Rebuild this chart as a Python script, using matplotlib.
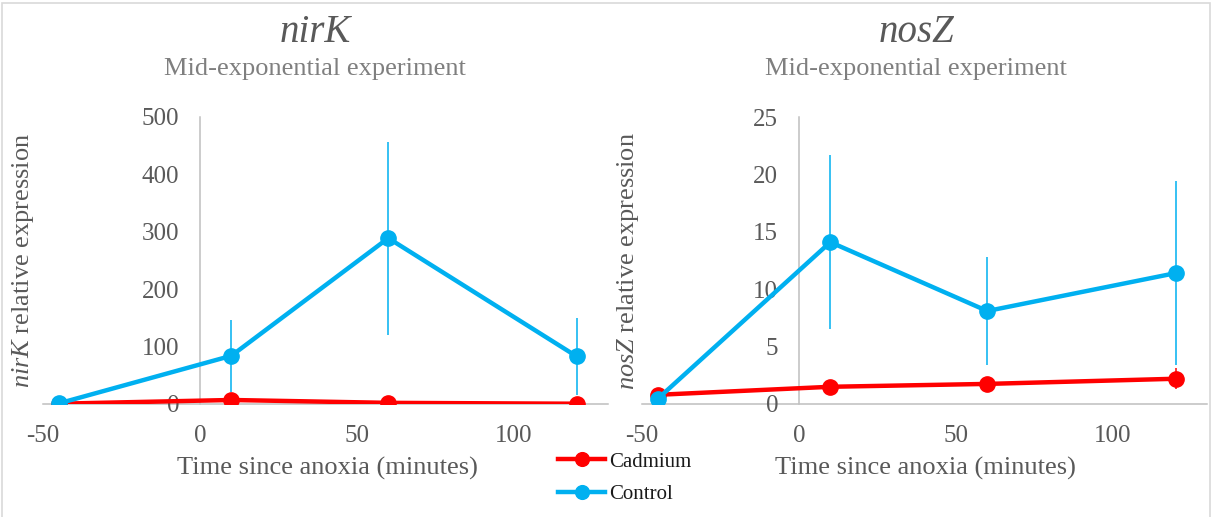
import matplotlib
matplotlib.use('Agg')
import matplotlib.pyplot as plt
import matplotlib.patches as patches

# Datos
tiempos = [-45, 10, 60, 120]

nirk_cadmio = [0.5, 7, 2, 0.5]
nirk_cadmio_err = [1, 3, 1, 0.5]
nirk_control = [1, 84, 289, 83]
nirk_control_err = [0.5, 63, 168, 67]

nosz_cadmio = [0.8, 1.5, 1.75, 2.2]
nosz_cadmio_err = [0.2, 0.3, 0.3, 0.9]
nosz_control = [0.45, 14.1, 8.1, 11.4]
nosz_control_err = [0.2, 7.6, 4.7, 8.0]

xticks = [-50, 0, 50, 100]
nirk_yticks = [0, 100, 200, 300, 400, 500]
nosz_yticks = [0, 5, 10, 15, 20, 25]

COLORS = {'cad': '#FF0000', 'ctrl': '#00B0F0', 'axis': '#BFBFBF',
          'text': '#595959', 'sub': '#7F7F7F', 'border': '#D9D9D9'}

SERIF = 'Liberation Serif'
plt.rcParams['font.family'] = [SERIF]
plt.rcParams['axes.unicode_minus'] = False
plt.rcParams['mathtext.fontset'] = 'custom'
plt.rcParams['mathtext.rm'] = SERIF
plt.rcParams['mathtext.it'] = SERIF + ':italic'

W, H = 1212, 517
fig = plt.figure(figsize=(W / 100, H / 100), dpi=100)


def panel(x0, cad, cad_err, ctrl, ctrl_err, ymax, yticks):
    ax = fig.add_axes([x0 / W, (H - 404) / H, 565 / W, 287 / H])
    ax.errorbar(tiempos, cad, yerr=cad_err, fmt='none', ecolor=COLORS['cad'], elinewidth=1.1, zorder=2)
    l1, = ax.plot(tiempos, cad, color=COLORS['cad'], lw=3.2, marker='o', ms=11, label='Cadmium', zorder=3)
    ax.errorbar(tiempos, ctrl, yerr=ctrl_err, fmt='none', ecolor=COLORS['ctrl'], elinewidth=1.1, zorder=4)
    l2, = ax.plot(tiempos, ctrl, color=COLORS['ctrl'], lw=3.2, marker='o', ms=11, label='Control', zorder=5)
    ax.set_xlim(-50, 130)
    ax.set_ylim(0, ymax)
    ax.set_xticks(xticks)
    ax.set_yticks(yticks)
    ax.spines['left'].set_position(('data', 0))
    for s in ['top', 'right']:
        ax.spines[s].set_visible(False)
    for s in ['left', 'bottom']:
        ax.spines[s].set_color(COLORS['axis'])
        ax.spines[s].set_linewidth(1.1)
        ax.spines[s].set_zorder(1)
    ax.tick_params(axis='y', length=0, pad=15, labelsize=18, labelcolor=COLORS['text'])
    ax.tick_params(axis='x', length=0, pad=15, labelsize=18, labelcolor=COLORS['text'])
    ax.patch.set_alpha(0)
    return ax, l1, l2


ax1, h1, h2 = panel(43, nirk_cadmio, nirk_cadmio_err, nirk_control, nirk_control_err, 500, nirk_yticks)
ax2, _, _ = panel(642, nosz_cadmio, nosz_cadmio_err, nosz_control, nosz_control_err, 25, nosz_yticks)

# Títulos y etiquetas
for cx, gen in [(315, 'nirK'), (916, 'nosZ')]:
    fig.text(cx / W, 1 - 33 / H, gen, fontsize=28, fontstyle='italic', color=COLORS['text'],
             ha='center', va='center')
    fig.text(cx / W, 1 - 69 / H, 'Mid-exponential experiment', fontsize=19, color=COLORS['sub'],
             ha='center', va='center')

for cx in [327, 925]:
    fig.text(cx / W, 1 - 468 / H, 'Time since anoxia (minutes)', fontsize=19, color=COLORS['text'],
             ha='center', va='center')

fig.text(23 / W, 1 - 261 / H, r'$\mathit{nirK}$ relative expression', fontsize=19,
         color=COLORS['text'], rotation=90, ha='center', va='center')
fig.text(628 / W, 1 - 261 / H, r'$\mathit{nosZ}$ relative expression', fontsize=19,
         color=COLORS['text'], rotation=90, ha='center', va='center')

# Leyenda
leg = fig.legend([h1, h2], ['Cadmium', 'Control'], loc='upper left', bbox_to_anchor=(558 / W, 1 - 452 / H),
                 frameon=False, fontsize=15, borderpad=0, borderaxespad=0,
                 handlelength=2.26, handletextpad=0.2, labelspacing=0.62, markerscale=0.9)
for t in leg.get_texts():
    t.set_fontfamily(SERIF)
    t.set_color('#1A1A1A')

# Borde del gráfico
fig.add_artist(patches.Rectangle((2.5 / W, -0.05), 1 - 4.5 / W, 1.05 - 3 / H, transform=fig.transFigure,
                                 fill=False, edgecolor=COLORS['border'], lw=1.2))

fig.savefig('out.png', dpi=100)
